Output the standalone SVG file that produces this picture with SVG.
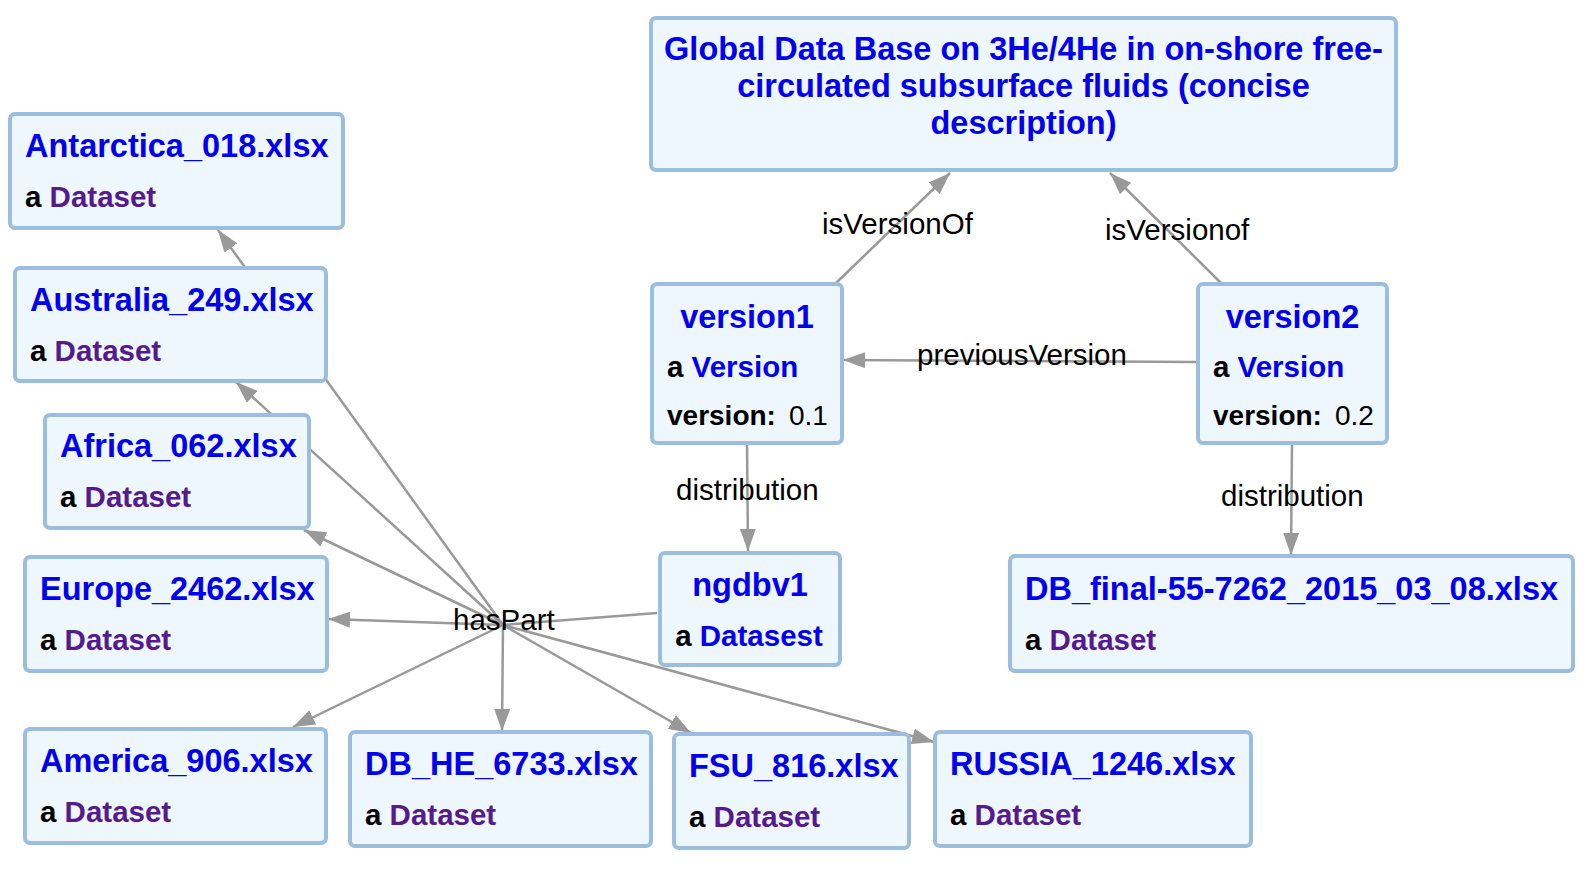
<svg xmlns="http://www.w3.org/2000/svg" width="1593" height="873" viewBox="0 0 1593 873">
<style>
.box{fill:#eef6fe;stroke:#9bbde0;stroke-width:4}
.t{font-family:"Liberation Sans",Arial,sans-serif;font-weight:bold;font-size:32.5px;fill:#0000ee}
.s{font-family:"Liberation Sans",Arial,sans-serif;font-weight:bold;font-size:29.5px;fill:#000}
.v{font-size:28px}
.p{fill:#551a8b}
.b{fill:#0000ee}
.n{font-weight:normal}
.e{stroke:#999;stroke-width:2.5;fill:none}
.l{font-family:"Liberation Sans",Arial,sans-serif;font-size:29.5px;fill:#000}
</style>
<defs>
<marker id="ah" markerUnits="userSpaceOnUse" markerWidth="22" markerHeight="16" refX="22" refY="8" orient="auto">
<path d="M0,0 L22,8 L0,16 z" fill="#999"/>
</marker>
</defs>
<rect width="1593" height="873" fill="#fff"/>
<g id="connectors">
<line class="e" x1="836" y1="283" x2="950" y2="173" marker-end="url(#ah)"/>
<line class="e" x1="1221" y1="283" x2="1110" y2="173" marker-end="url(#ah)"/>
<line class="e" x1="1197" y1="362" x2="843" y2="360" marker-end="url(#ah)"/>
<line class="e" x1="747" y1="444" x2="748" y2="551" marker-end="url(#ah)"/>
<line class="e" x1="1292" y1="444" x2="1291" y2="555" marker-end="url(#ah)"/>
<line class="e" x1="657" y1="613" x2="503" y2="625"/>
<line class="e" x1="503" y1="625" x2="218" y2="230" marker-end="url(#ah)"/>
<line class="e" x1="503" y1="625" x2="236" y2="382" marker-end="url(#ah)"/>
<line class="e" x1="503" y1="625" x2="304" y2="530" marker-end="url(#ah)"/>
<line class="e" x1="503" y1="625" x2="328" y2="619" marker-end="url(#ah)"/>
<line class="e" x1="503" y1="625" x2="293" y2="727" marker-end="url(#ah)"/>
<line class="e" x1="503" y1="625" x2="502" y2="731" marker-end="url(#ah)"/>
<line class="e" x1="503" y1="625" x2="691" y2="733" marker-end="url(#ah)"/>
<line class="e" x1="503" y1="625" x2="934" y2="742" marker-end="url(#ah)"/>
<text class="l" x="822" y="234">isVersionOf</text>
<text class="l" x="1105" y="240">isVersionof</text>
<text class="l" x="917" y="365">previousVersion</text>
<text class="l" x="676" y="500">distribution</text>
<text class="l" x="1221" y="506">distribution</text>
<text class="l" x="453" y="630">hasPart</text>
</g>
<g id="global">
<rect class="box" x="651" y="18" width="745" height="152" rx="5"/>
<text class="t" text-anchor="middle" x="1023.5" y="60">Global Data Base on 3He/4He in on-shore free-</text>
<text class="t" text-anchor="middle" x="1023.5" y="97">circulated subsurface fluids (concise</text>
<text class="t" text-anchor="middle" x="1023.5" y="134">description)</text>
</g>
<g id="antarctica">
<rect class="box" x="10" y="114" width="333" height="114" rx="5"/>
<text class="t" x="25" y="157">Antarctica_018.xlsx</text>
<text class="s" x="25" y="207">a <tspan class="p">Dataset</tspan></text>
</g>
<g id="australia">
<rect class="box" x="15" y="268" width="311" height="113" rx="5"/>
<text class="t" x="30" y="311">Australia_249.xlsx</text>
<text class="s" x="30" y="361">a <tspan class="p">Dataset</tspan></text>
</g>
<g id="africa">
<rect class="box" x="45" y="415" width="264" height="113" rx="5"/>
<text class="t" x="60" y="457">Africa_062.xlsx</text>
<text class="s" x="60" y="507">a <tspan class="p">Dataset</tspan></text>
</g>
<g id="europe">
<rect class="box" x="25" y="557" width="302" height="114" rx="5"/>
<text class="t" x="40" y="600">Europe_2462.xlsx</text>
<text class="s" x="40" y="650">a <tspan class="p">Dataset</tspan></text>
</g>
<g id="america">
<rect class="box" x="25" y="729" width="301" height="114" rx="5"/>
<text class="t" x="40" y="772">America_906.xlsx</text>
<text class="s" x="40" y="822">a <tspan class="p">Dataset</tspan></text>
</g>
<g id="dbhe">
<rect class="box" x="350" y="732" width="301" height="114" rx="5"/>
<text class="t" x="365" y="775">DB_HE_6733.xlsx</text>
<text class="s" x="365" y="825">a <tspan class="p">Dataset</tspan></text>
</g>
<g id="fsu">
<rect class="box" x="674" y="734" width="235" height="114" rx="5"/>
<text class="t" x="689" y="777">FSU_816.xlsx</text>
<text class="s" x="689" y="827">a <tspan class="p">Dataset</tspan></text>
</g>
<g id="russia">
<rect class="box" x="935" y="732" width="316" height="114" rx="5"/>
<text class="t" x="950" y="775">RUSSIA_1246.xlsx</text>
<text class="s" x="950" y="825">a <tspan class="p">Dataset</tspan></text>
</g>
<g id="version1">
<rect class="box" x="652" y="284" width="190" height="159" rx="5"/>
<text class="t" text-anchor="middle" x="747" y="328">version1</text>
<text class="s" x="667" y="377">a <tspan class="b">Version</tspan></text>
<text class="s v" x="667" y="425">version:<tspan class="n" x="789">0.1</tspan></text>
</g>
<g id="version2">
<rect class="box" x="1198" y="284" width="189" height="159" rx="5"/>
<text class="t" text-anchor="middle" x="1292.5" y="328">version2</text>
<text class="s" x="1213" y="377">a <tspan class="b">Version</tspan></text>
<text class="s v" x="1213" y="425">version:<tspan class="n" x="1335">0.2</tspan></text>
</g>
<g id="ngdbv1">
<rect class="box" x="660" y="553" width="180" height="112" rx="5"/>
<text class="t" text-anchor="middle" x="750" y="596">ngdbv1</text>
<text class="s" text-anchor="middle" x="749" y="646">a <tspan class="b">Datasest</tspan></text>
</g>
<g id="dbfinal">
<rect class="box" x="1010" y="556" width="563" height="115" rx="5"/>
<text class="t" x="1025" y="600">DB_final-55-7262_2015_03_08.xlsx</text>
<text class="s" x="1025" y="650">a <tspan class="p">Dataset</tspan></text>
</g>
</svg>
